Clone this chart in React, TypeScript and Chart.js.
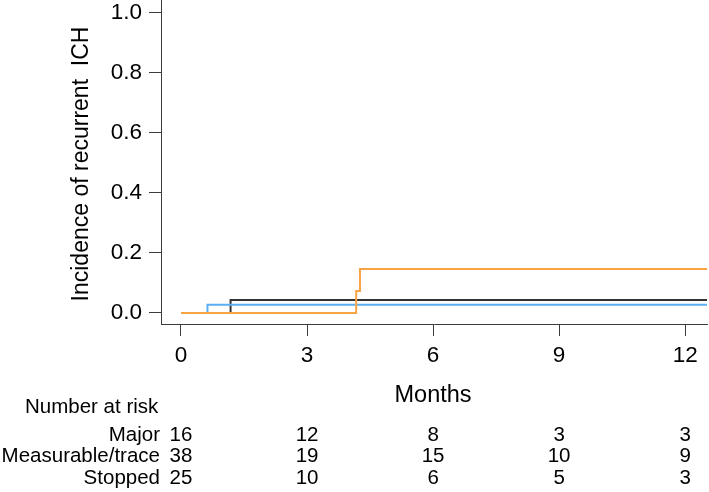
import React, { useEffect, useRef } from "react";
import { Chart, registerables } from "chart.js";

Chart.register(...registerables);

const monthTicks = [0, 3, 6, 9, 12];
const incidenceTicks = [0, 0.2, 0.4, 0.6, 0.8, 1.0];

const stoppedTimes = [0, 4.17, 4.26, 12.52];
const stoppedValues = [0, 0.073, 0.146, 0.146];
const measurableTimes = [0, 0.63, 12.52];
const measurableValues = [0, 0.027, 0.027];
const majorTimes = [0, 1.18, 12.52];
const majorValues = [0, 0.043, 0.043];

const riskGroups = ["Major", "Measurable/trace", "Stopped"];
const riskMajor = [16, 12, 8, 3, 3];
const riskMeasurable = [38, 19, 15, 10, 9];
const riskStopped = [25, 10, 6, 5, 3];

const yTitle = "Incidence of recurrent  ICH";
const xTitle = "Months";
const riskTitle = "Number at risk";

const FONT = '"Liberation Sans", Arial, Helvetica, sans-serif';
const AXIS = "#3c3c3c";

const toPoints = (xs: number[], ys: number[]) => xs.map((x, i) => ({ x, y: ys[i] }));

const textPlugin = {
  id: "kmText",
  afterDraw(chart: any) {
    const ctx = chart.ctx;
    const xs = chart.scales.x;
    const ys = chart.scales.y;
    ctx.save();
    ctx.fillStyle = "#000";
    // y title
    ctx.save();
    ctx.font = `23px ${FONT}`;
    ctx.translate(82, (ys.top + ys.bottom) / 2 + 2);
    ctx.rotate(-Math.PI / 2);
    ctx.textAlign = "center";
    ctx.textBaseline = "middle";
    ctx.fillText(yTitle, 0, 0);
    ctx.restore();
    // x title
    ctx.font = `23.5px ${FONT}`;
    ctx.textAlign = "center";
    ctx.textBaseline = "middle";
    const x0 = xs.getPixelForValue(monthTicks[0]);
    const x1 = xs.getPixelForValue(monthTicks[monthTicks.length - 1]);
    ctx.fillText(xTitle, (x0 + x1) / 2, 396);
    // risk table
    ctx.font = `20.5px ${FONT}`;
    ctx.textAlign = "left";
    ctx.fillText(riskTitle, 25, 407);
    const rows = [riskMajor, riskMeasurable, riskStopped];
    rows.forEach((row, r) => {
      const y = 435 + r * 21.8;
      ctx.textAlign = "right";
      ctx.fillText(riskGroups[r], x0 - 21, y);
      ctx.textAlign = "center";
      row.forEach((n, i) => {
        ctx.fillText(String(n), xs.getPixelForValue(monthTicks[i]), y);
      });
    });
    ctx.restore();
  },
};

export default function App() {
  const ref = useRef<HTMLCanvasElement | null>(null);
  useEffect(() => {
    document.body.style.margin = "0";
    if (!ref.current) return;
    const common = { borderWidth: 2, stepped: "before" as const, pointRadius: 0, fill: false };
    const chart = new Chart(ref.current, {
      type: "line",
      data: {
        datasets: [
          { label: "Stopped", data: toPoints(stoppedTimes, stoppedValues), borderColor: "#F8A444", ...common },
          { label: "Measurable/trace", data: toPoints(measurableTimes, measurableValues), borderColor: "#5CAEF4", ...common },
          { label: "Major", data: toPoints(majorTimes, majorValues), borderColor: "#333333", ...common },
        ],
      },
      options: {
        responsive: false,
        animation: false,
        devicePixelRatio: 1,
        layout: { padding: { left: 0, top: 0, right: 2, bottom: 0 } },
        plugins: { legend: { display: false }, tooltip: { enabled: false } },
        scales: {
          x: {
            type: "linear",
            min: -0.476,
            max: 12.52,
            afterBuildTicks: (s: any) => {
              s.ticks = monthTicks.map((v) => ({ value: v }));
            },
            afterFit: (s: any) => {
              s.height = 168;
              s.paddingLeft = 0;
              s.paddingRight = 0;
            },
            border: { display: true, color: AXIS, width: 1 },
            grid: { display: true, drawOnChartArea: false, drawTicks: true, tickLength: 12, color: AXIS },
            ticks: {
              padding: 6,
              color: "#000",
              font: { family: FONT, size: 22.5 },
              maxRotation: 0,
              callback: (v: any) => String(v),
            },
          },
          y: {
            type: "linear",
            min: -0.037,
            max: 1.043,
            afterBuildTicks: (s: any) => {
              s.ticks = incidenceTicks.map((v) => ({ value: v }));
            },
            afterFit: (s: any) => {
              s.width = 161;
              s.paddingTop = 0;
              s.paddingBottom = 0;
            },
            border: { display: true, color: AXIS, width: 1 },
            grid: { display: true, drawOnChartArea: false, drawTicks: true, tickLength: 12, color: AXIS },
            ticks: {
              padding: 7,
              color: "#000",
              font: { family: FONT, size: 22.5 },
              callback: (v: any) => Number(v).toFixed(1),
            },
          },
        },
      },
      plugins: [textPlugin],
    });
    return () => chart.destroy();
  }, []);
  return <canvas ref={ref} width={709} height={492} style={{ display: "block", width: 709, height: 492 }} />;
}
